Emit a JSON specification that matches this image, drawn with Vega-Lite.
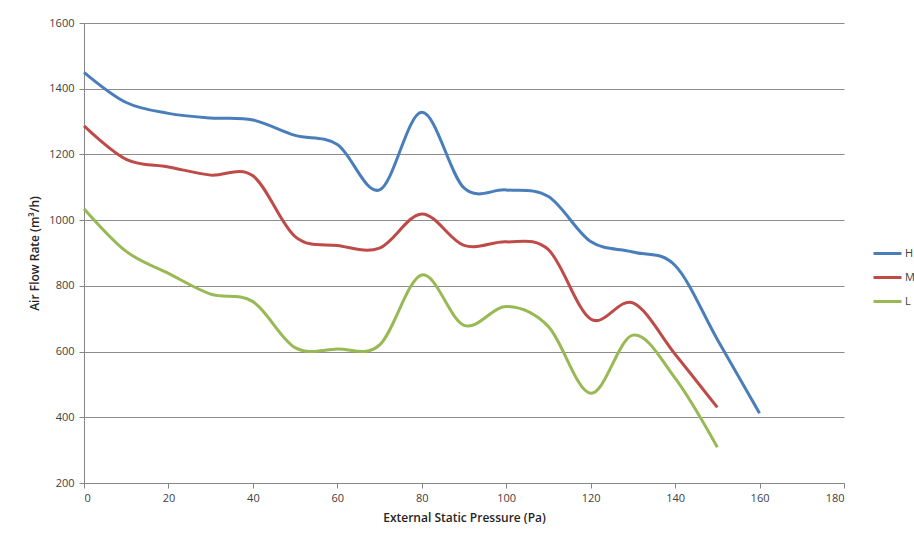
{
  "$schema": "https://vega.github.io/schema/vega-lite/v6.json",
  "width": 760,
  "height": 460,
  "autosize": {"type": "none"},
  "padding": {"left": 84, "top": 23, "right": 70, "bottom": 57},
  "background": "white",
  "config": {
    "font": "Open Sans",
    "view": {"stroke": null},
    "axis": {
      "labelFont": "Open Sans",
      "titleFont": "Open Sans",
      "labelFontSize": 11,
      "labelColor": "#404040",
      "titleColor": "#262626",
      "titleFontSize": 12,
      "titleFontWeight": 600,
      "domainColor": "#868686",
      "tickColor": "#868686",
      "gridColor": "#8c8c8c",
      "tickSize": 5
    }
  },
  "data": {
    "values": [
      {"p": 0, "s": "H", "q": 1450}, {"p": 10, "s": "H", "q": 1358}, {"p": 20, "s": "H", "q": 1325},
      {"p": 30, "s": "H", "q": 1311}, {"p": 40, "s": "H", "q": 1305}, {"p": 50, "s": "H", "q": 1258},
      {"p": 60, "s": "H", "q": 1230}, {"p": 70, "s": "H", "q": 1092}, {"p": 80, "s": "H", "q": 1328},
      {"p": 90, "s": "H", "q": 1098}, {"p": 100, "s": "H", "q": 1092}, {"p": 110, "s": "H", "q": 1072},
      {"p": 120, "s": "H", "q": 935}, {"p": 130, "s": "H", "q": 903}, {"p": 140, "s": "H", "q": 862},
      {"p": 150, "s": "H", "q": 637}, {"p": 160, "s": "H", "q": 412},
      {"p": 0, "s": "M", "q": 1287}, {"p": 10, "s": "M", "q": 1185}, {"p": 20, "s": "M", "q": 1162},
      {"p": 30, "s": "M", "q": 1137}, {"p": 40, "s": "M", "q": 1135}, {"p": 50, "s": "M", "q": 950},
      {"p": 60, "s": "M", "q": 923}, {"p": 70, "s": "M", "q": 915}, {"p": 80, "s": "M", "q": 1019},
      {"p": 90, "s": "M", "q": 923}, {"p": 100, "s": "M", "q": 934}, {"p": 110, "s": "M", "q": 910},
      {"p": 120, "s": "M", "q": 699}, {"p": 130, "s": "M", "q": 748}, {"p": 140, "s": "M", "q": 592},
      {"p": 150, "s": "M", "q": 430},
      {"p": 0, "s": "L", "q": 1035}, {"p": 10, "s": "L", "q": 905}, {"p": 20, "s": "L", "q": 838},
      {"p": 30, "s": "L", "q": 775}, {"p": 40, "s": "L", "q": 752}, {"p": 50, "s": "L", "q": 612},
      {"p": 60, "s": "L", "q": 608}, {"p": 70, "s": "L", "q": 620}, {"p": 80, "s": "L", "q": 833},
      {"p": 90, "s": "L", "q": 680}, {"p": 100, "s": "L", "q": 737}, {"p": 110, "s": "L", "q": 676},
      {"p": 120, "s": "L", "q": 473}, {"p": 130, "s": "L", "q": 650}, {"p": 140, "s": "L", "q": 519},
      {"p": 150, "s": "L", "q": 309}
    ]
  },
  "mark": {"type": "line", "interpolate": "cardinal", "strokeWidth": 3},
  "encoding": {
    "x": {
      "field": "p", "type": "quantitative",
      "scale": {"domain": [0, 180], "nice": false, "zero": false},
      "axis": {"values": [0, 20, 40, 60, 80, 100, 120, 140, 160, 180], "grid": false,
               "title": "External  Static Pressure (Pa)", "labelPadding": 4, "titlePadding": 9}
    },
    "y": {
      "field": "q", "type": "quantitative",
      "scale": {"domain": [200, 1600], "nice": false, "zero": false},
      "axis": {"values": [200, 400, 600, 800, 1000, 1200, 1400, 1600], "grid": true, "format": "d",
               "title": "Air Flow Rate (m³/h)", "labelPadding": 5, "titlePadding": 7}
    },
    "color": {
      "field": "s", "type": "nominal",
      "scale": {"domain": ["H", "M", "L"], "range": ["#4A7EBB", "#BE4B48", "#98B954"]},
      "legend": {
        "title": null, "orient": "none", "legendX": 788, "legendY": 215,
        "symbolType": "stroke", "symbolSize": 784, "symbolStrokeWidth": 3,
        "labelFontSize": 11, "labelColor": "#404040", "labelOffset": 2, "rowPadding": 2
      }
    }
  }
}
